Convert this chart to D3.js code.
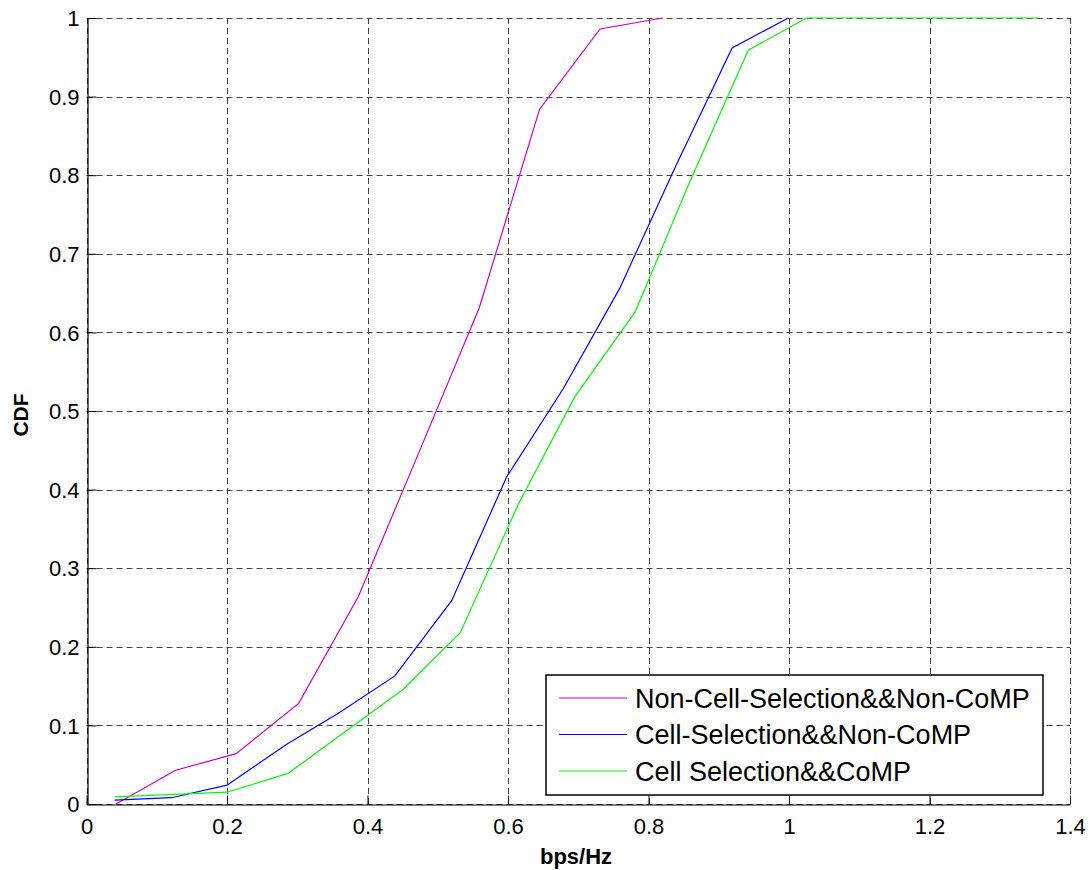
<!DOCTYPE html>
<html>
<head>
<meta charset="UTF-8">
<script src="https://d3js.org/d3.v7.min.js"></script>
<style>
  body { margin: 0; background: #fff; font-family: "Liberation Sans", Arial, sans-serif; }
  svg { display: block; }
</style>
</head>
<body>
<svg id="chart" width="1090" height="870"></svg>
<script>
// series
const seriesNames = [
  "Non-Cell-Selection&&Non-CoMP",
  "Cell-Selection&&Non-CoMP",
  "Cell Selection&&CoMP"
];
const seriesColors = ["#cc00cc", "#0000ff", "#00ff00"];

const nonCellNonCompX = [0.042, 0.127, 0.213, 0.302, 0.387, 0.467, 0.559, 0.645, 0.731, 0.820];
const nonCellNonCompY = [0.000, 0.043, 0.064, 0.128, 0.264, 0.434, 0.631, 0.884, 0.986, 1.000];

const cellNonCompX = [0.040, 0.121, 0.200, 0.285, 0.358, 0.439, 0.520, 0.598, 0.679, 0.759, 0.838, 0.919, 0.999];
const cellNonCompY = [0.005, 0.008, 0.024, 0.076, 0.115, 0.163, 0.259, 0.416, 0.529, 0.656, 0.810, 0.962, 1.000];

const cellCompX = [0.040, 0.200, 0.287, 0.451, 0.532, 0.615, 0.695, 0.781, 0.858, 0.942, 1.025, 1.355];
const cellCompY = [0.009, 0.015, 0.039, 0.146, 0.218, 0.382, 0.518, 0.626, 0.790, 0.959, 1.000, 1.000];

const xTicks = [0, 0.2, 0.4, 0.6, 0.8, 1, 1.2, 1.4];
const yTicks = [0, 0.1, 0.2, 0.3, 0.4, 0.5, 0.6, 0.7, 0.8, 0.9, 1];

const series = [
  { name: seriesNames[0], color: seriesColors[0], xs: nonCellNonCompX, ys: nonCellNonCompY },
  { name: seriesNames[1], color: seriesColors[1], xs: cellNonCompX, ys: cellNonCompY },
  { name: seriesNames[2], color: seriesColors[2], xs: cellCompX, ys: cellCompY }
];

const x = d3.scaleLinear().domain([0, 1.4]).range([86.5, 1070]);
const y = d3.scaleLinear().domain([0, 1]).range([804, 18]);

const svg = d3.select("#chart");

// grid
const grid = svg.append("g")
  .attr("stroke", "#444")
  .attr("stroke-width", 1)
  .attr("stroke-dasharray", "6,4");
grid.selectAll("line.gx").data(xTicks).join("line")
  .attr("x1", d => Math.round(x(d)) + 0.5).attr("x2", d => Math.round(x(d)) + 0.5)
  .attr("y1", y(1)).attr("y2", y(0));
grid.selectAll("line.gy").data(yTicks).join("line")
  .attr("y1", d => Math.round(y(d)) + 0.5).attr("y2", d => Math.round(y(d)) + 0.5)
  .attr("x1", x(0)).attr("x2", x(1.4));

// axes (ticks inside)
const xAxis = d3.axisBottom(x).tickValues(xTicks).tickSizeInner(-9).tickSizeOuter(0)
  .tickFormat(d3.format("~g"));
const yAxis = d3.axisLeft(y).tickValues(yTicks).tickSizeInner(-9).tickSizeOuter(0)
  .tickFormat(d3.format("~g"));

const gx = svg.append("g").attr("transform", `translate(0,${Math.round(y(0)) + 0.5})`).call(xAxis);
const gy = svg.append("g").attr("transform", `translate(${Math.round(x(0)) + 0.5},0)`).call(yAxis);
[gx, gy].forEach(g => {
  g.attr("font-size", null).attr("font-family", null);
  g.select(".domain").attr("stroke", "#000").attr("stroke-width", 1.2);
  g.selectAll(".tick line").attr("stroke", "#000");
  g.selectAll(".tick text")
    .attr("fill", "#000")
    .style("font-family", "'Liberation Sans', Arial, sans-serif")
    .style("font-size", "22px");
});
gx.selectAll(".tick text").attr("y", 14).attr("dy", "0.71em");
gy.selectAll(".tick text").attr("x", -8).attr("dy", "0.35em");

// lines
const line = d3.line().x(d => x(d[0])).y(d => y(d[1]));
svg.append("g").selectAll("path").data(series).join("path")
  .attr("fill", "none")
  .attr("stroke", d => d.color)
  .attr("stroke-width", 1.2)
  .attr("d", d => line(d.xs.map((v, i) => [v, d.ys[i]])));

// axis labels
svg.append("text")
  .attr("x", 576).attr("y", 864)
  .attr("text-anchor", "middle")
  .style("font-size", "22px").style("font-weight", "bold")
  .text("bps/Hz");
svg.append("text")
  .attr("transform", `translate(28,415) rotate(-90)`)
  .attr("text-anchor", "middle")
  .style("font-size", "21px").style("font-weight", "bold")
  .text("CDF");

// legend
const legend = svg.append("g").attr("transform", "translate(546,675)");
legend.append("rect")
  .attr("width", 497).attr("height", 120)
  .attr("fill", "#fff").attr("stroke", "#000").attr("stroke-width", 1.5);
const rows = legend.selectAll("g.row").data(series).join("g")
  .attr("transform", (d, i) => `translate(0,${23 + i * 36.5})`);
rows.append("line")
  .attr("x1", 13).attr("x2", 81).attr("y1", 0).attr("y2", 0)
  .attr("stroke", d => d.color).attr("stroke-width", 1.2);
rows.append("text")
  .attr("x", 89).attr("dy", "0.36em")
  .style("font-size", "27px")
  .text(d => d.name);
</script>
</body>
</html>
